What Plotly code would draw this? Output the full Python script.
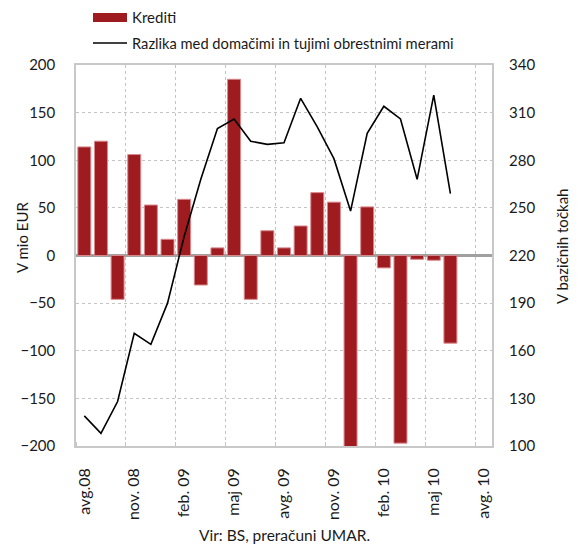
import plotly.graph_objects as go

months = ["avg.08", "sep.08", "okt.08", "nov. 08", "dec.08", "jan.09", "feb. 09", "mar.09", "apr.09",
          "maj 09", "jun.09", "jul.09", "avg. 09", "sep.09", "okt.09", "nov. 09", "dec.09", "jan.10",
          "feb. 10", "mar.10", "apr.10", "maj 10", "jun.10", "jul.10", "avg. 10"]
krediti = [114, 120, -46, 106, 53, 17, 59, -31, 8, 185, -46, 26, 8, 31, 66, 56, -204, 51,
           -13, -197, -4, -5, -92]
razlika = [119, 108, 128, 171, 164, 190, 232, 268, 300, 306, 292, 290, 291, 319, 301, 281,
           248, 297, 314, 306, 268, 321, 259]
tick_idx = [0, 3, 6, 9, 12, 15, 18, 21, 24]
tick_labels = [months[i] for i in tick_idx]

FONT = "Lato"
TXT = "#1a1a1a"
BAR = "#9e1b20"

OFF = 8  # page body margin
W, H = 578 - OFF, 545 - OFF
L, R, T, B = 76 - OFF, 86, 65 - OFF, 99
pw, ph = W - L - R, H - T - B

def px(x):
    return (x - OFF - L) / pw

def py(y):
    return (H - B - (y - OFF)) / ph

x_bar = list(range(len(krediti)))
x_line = list(range(len(razlika)))

fig = go.Figure()
fig.add_trace(go.Bar(x=x_bar, y=krediti, name="Krediti",
                     marker=dict(color=BAR, line=dict(color="#d9898c", width=1)),
                     showlegend=False))
fig.add_trace(go.Scatter(x=x_line, y=razlika, name="Razlika med domačimi in tujimi obrestnimi merami",
                         mode="lines", line=dict(color="black", width=1.6), yaxis="y2", showlegend=False))

fig.update_layout(
    width=W, height=H,
    margin=dict(l=L, r=R, t=T, b=B),
    paper_bgcolor="white", plot_bgcolor="white",
    font=dict(family=FONT, size=15, color=TXT),
    bargap=0.22,
    xaxis=dict(range=[-0.5, 24.5], tickmode="array", tickvals=tick_idx, ticktext=tick_labels,
               tickangle=-90, showgrid=False, ticks="", showline=True, linecolor="#c8c8c8",
               linewidth=1.5, mirror=True, ticklabelstandoff=14, automargin=False,
               tickfont=dict(size=16),
               minor=dict(tick0=2.5, dtick=3, showgrid=True, gridcolor="#c4c4c4", griddash="dot",
                          gridwidth=1, ticks="inside", ticklen=4, tickcolor="#c4c4c4")),
    yaxis=dict(range=[-200, 200], dtick=50, showgrid=True, gridcolor="#c4c4c4", griddash="dot",
               gridwidth=1, zeroline=True, zerolinecolor="#a0a0a0", zerolinewidth=2.5,
               showline=True, linecolor="#c8c8c8", linewidth=1.5, mirror=True,
               ticklabelstandoff=16, automargin=False, tickfont=dict(size=15)),
    yaxis2=dict(range=[100, 340], tick0=100, dtick=30, overlaying="y", side="right", showgrid=False,
                zeroline=False, showline=False, ticklabelstandoff=16, automargin=False,
                tickfont=dict(size=15)),
)

# Axis titles
fig.add_annotation(xref="paper", yref="paper", x=px(22), y=py(237), text="V mio EUR", textangle=-90,
                   showarrow=False, xanchor="center", yanchor="middle", font=dict(size=15))
fig.add_annotation(xref="paper", yref="paper", x=px(562), y=py(247), text="V bazičnih točkah",
                   textangle=-90, showarrow=False, xanchor="center", yanchor="middle",
                   font=dict(size=15))

# Legend drawn manually
fig.add_shape(type="rect", xref="paper", yref="paper", x0=px(93), x1=px(127), y0=py(22), y1=py(13),
              fillcolor=BAR, line=dict(width=0))
fig.add_shape(type="line", xref="paper", yref="paper", x0=px(93), x1=px(127), y0=py(43), y1=py(43),
              line=dict(color="black", width=1.3))
fig.add_annotation(xref="paper", yref="paper", x=px(130), y=py(17), text="Krediti", showarrow=False,
                   xanchor="left", yanchor="middle", font=dict(size=15))
fig.add_annotation(xref="paper", yref="paper", x=px(130), y=py(43),
                   text="Razlika med domačimi in tujimi obrestnimi merami", showarrow=False,
                   xanchor="left", yanchor="middle", font=dict(size=14.7))
fig.add_annotation(xref="paper", yref="paper", x=px(284), y=py(535), text="Vir: BS, preračuni UMAR.",
                   showarrow=False, xanchor="center", yanchor="middle", font=dict(size=15.5))

fig.write_html("out.html")
